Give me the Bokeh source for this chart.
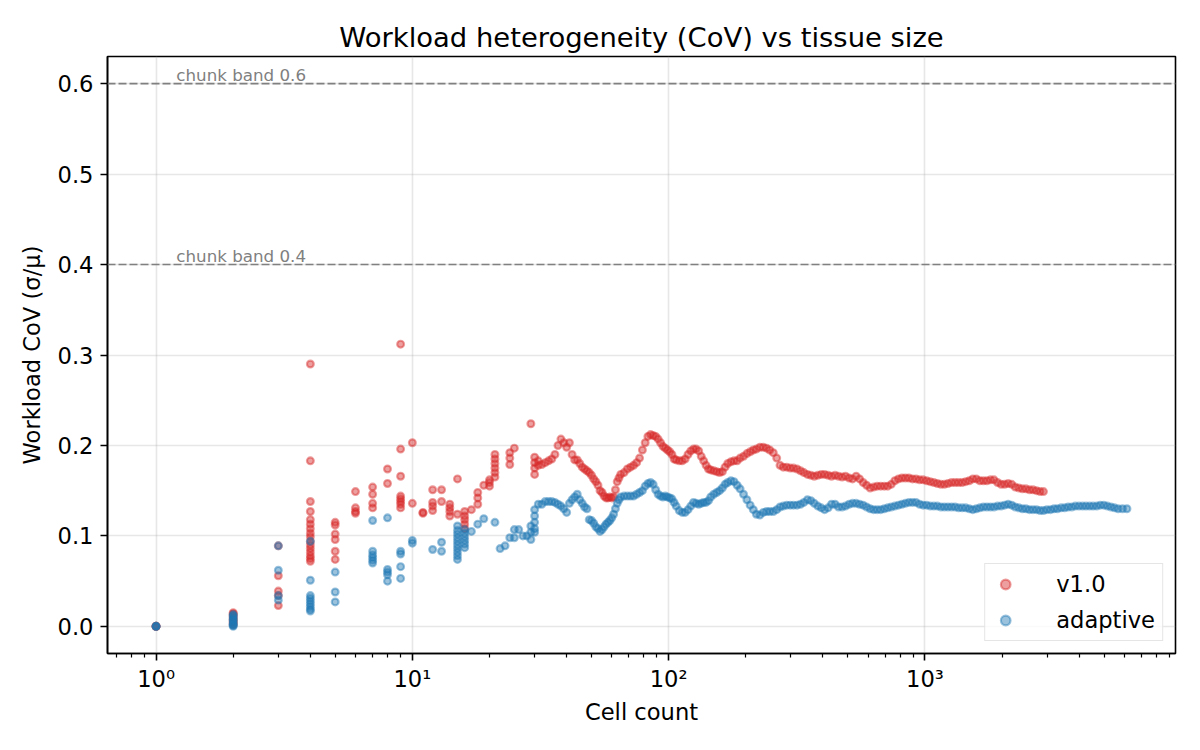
import math
from bokeh.plotting import figure
from bokeh.models import (Span, Range1d, FixedTicker, CustomJSTickFormatter, PrintfTickFormatter,
                          Legend, LegendItem)
from bokeh.embed import file_html
from bokeh.resources import INLINE
from bokeh.core.properties import value

# ---------------- data ----------------
# v1.0 (red): small tissues (several tissues per cell count)
red_x_small = [1, 1, 1,
               2, 2, 2, 2, 2, 2, 2, 2,
               3, 3, 3, 3, 3,
               4, 4, 4, 4, 4, 4, 4, 4, 4, 4, 4, 4, 4, 4, 4, 4,
               5, 5, 5, 5, 5, 5,
               6, 6, 6, 6,
               7, 7, 7, 7,
               8, 8,
               9, 9, 9, 9, 9, 9, 9, 9,
               10, 10,
               11, 11,
               12, 12, 12, 12,
               13, 13,
               14, 14, 14, 14,
               15, 15,
               16, 16, 16, 16, 16,
               17,
               18, 18, 18,
               19,
               20, 20, 20,
               21, 21, 21, 21, 21, 21,
               24, 24, 24,
               25,
               29,
               30, 30, 30, 30,
               31, 31]
red_y_small = [0.0, 0.0, 0.0,
               0.002, 0.004, 0.006, 0.008, 0.010, 0.012, 0.014, 0.015,
               0.089, 0.056, 0.039, 0.034, 0.023,
               0.290, 0.183, 0.138, 0.127, 0.118, 0.113, 0.108, 0.103, 0.099, 0.094, 0.090, 0.086, 0.082, 0.078, 0.075, 0.072,
               0.115, 0.112, 0.102, 0.096, 0.083, 0.074,
               0.149, 0.131, 0.127, 0.125,
               0.154, 0.146, 0.136, 0.131,
               0.174, 0.158,
               0.312, 0.196, 0.166, 0.144, 0.141, 0.138, 0.135, 0.131,
               0.203, 0.136,
               0.126, 0.125,
               0.151, 0.137, 0.133, 0.128,
               0.151, 0.138,
               0.135, 0.131, 0.127, 0.122,
               0.163, 0.124,
               0.127, 0.122, 0.118, 0.113, 0.108,
               0.129,
               0.148, 0.142, 0.135,
               0.156,
               0.162, 0.159, 0.155,
               0.190, 0.185, 0.180, 0.175, 0.170, 0.165,
               0.192, 0.186, 0.179,
               0.197,
               0.224,
               0.187, 0.181, 0.175, 0.168,
               0.183, 0.178]

# v1.0 (red): larger tissues
red_x_tail = [32, 33, 34, 35, 36, 37, 38, 39, 40, 41, 42, 43, 44, 45, 46, 47, 48, 49, 50,
              51, 52, 53, 54, 55, 56, 57, 58, 59, 60, 61, 62, 63, 64, 65, 67, 69, 71, 73, 75,
              77, 79, 81, 83, 85, 87, 89, 91, 93, 95, 97, 99, 101, 103, 105, 107, 110, 113, 116,
              119, 122, 125, 128, 131, 134, 137, 140, 143, 146, 150, 154, 158, 162, 166, 170,
              175, 180, 185, 190, 196, 202, 208, 214, 220, 227, 234, 241, 248, 256, 264, 272,
              280, 289, 298, 307, 317, 327, 337, 348, 359, 370, 382, 394, 406, 419, 432, 446,
              460, 475, 490, 506, 522, 539, 556, 574, 592, 611, 631, 651, 672, 694, 716, 739,
              763, 788, 813, 839, 866, 894, 923, 953, 984, 1016, 1049, 1083, 1118, 1154, 1191,
              1230, 1270, 1311, 1353, 1397, 1442, 1489, 1537, 1587, 1638, 1691, 1746, 1802,
              1860, 1920, 1982, 2046, 2112, 2181, 2251, 2324, 2399, 2477, 2557, 2640, 2725,
              2813, 2900]
red_y_tail = [0.179, 0.181, 0.183, 0.185, 0.190, 0.200, 0.207, 0.203, 0.198, 0.203, 0.190, 0.184,
              0.184, 0.180, 0.176, 0.174, 0.172, 0.170, 0.167,
              0.163, 0.160, 0.156, 0.150, 0.148, 0.144, 0.142, 0.142, 0.143, 0.142, 0.143, 0.151,
              0.160, 0.164, 0.168, 0.170, 0.174, 0.176, 0.178, 0.181,
              0.186, 0.195, 0.203, 0.210, 0.212, 0.211, 0.210, 0.207, 0.203, 0.199, 0.197, 0.195,
              0.193, 0.190, 0.185, 0.184, 0.183, 0.183, 0.185,
              0.190, 0.194, 0.196, 0.196, 0.194, 0.188, 0.183, 0.178, 0.174, 0.173, 0.172, 0.171,
              0.170, 0.171, 0.176, 0.180,
              0.182, 0.183, 0.183, 0.186, 0.188, 0.191, 0.193, 0.195, 0.196, 0.198, 0.198, 0.197,
              0.195, 0.192, 0.186, 0.178,
              0.176, 0.176, 0.175, 0.175, 0.174, 0.172, 0.170, 0.168, 0.167, 0.166, 0.167, 0.168,
              0.168, 0.167, 0.166, 0.167,
              0.166, 0.165, 0.166, 0.164, 0.163, 0.166, 0.163, 0.159, 0.156, 0.153, 0.154, 0.155,
              0.155, 0.155, 0.155, 0.157,
              0.161, 0.163, 0.164, 0.164, 0.164, 0.163, 0.163, 0.162, 0.162, 0.161, 0.160, 0.159,
              0.158, 0.157, 0.157,
              0.158, 0.159, 0.159, 0.159, 0.159, 0.160, 0.161, 0.163, 0.163, 0.161, 0.161, 0.161,
              0.162,
              0.162, 0.159, 0.157, 0.157, 0.158, 0.157, 0.154, 0.153, 0.152, 0.152, 0.151, 0.151,
              0.150,
              0.149, 0.149]

# adaptive (blue): small tissues
blue_x_small = [1, 1, 1,
                2, 2, 2, 2, 2, 2, 2, 2, 2, 2,
                3, 3, 3, 3,
                4, 4, 4, 4, 4, 4, 4, 4, 4,
                5, 5, 5,
                7, 7, 7, 7, 7, 7,
                8, 8, 8, 8, 8,
                9, 9, 9, 9,
                10, 10,
                12,
                13, 13,
                15, 15, 15, 15, 15, 15, 15, 15, 15, 15,
                16, 16, 16, 16, 16, 16,
                17, 18, 19, 21, 22, 23, 24,
                25, 25,
                26, 27, 28,
                29, 29, 29,
                30, 30, 30, 30, 30,
                31]
blue_y_small = [0.0, 0.0, 0.0,
                0.0, 0.001, 0.002, 0.003, 0.005, 0.007, 0.008, 0.010, 0.012, 0.013,
                0.089, 0.062, 0.034, 0.029,
                0.094, 0.051, 0.034, 0.031, 0.028, 0.025, 0.022, 0.019, 0.017,
                0.060, 0.038, 0.027,
                0.117, 0.083, 0.079, 0.076, 0.073, 0.070,
                0.120, 0.063, 0.060, 0.057, 0.050,
                0.083, 0.080, 0.066, 0.053,
                0.095, 0.092,
                0.085,
                0.093, 0.083,
                0.111, 0.106, 0.102, 0.098, 0.094, 0.090, 0.086, 0.082, 0.078, 0.074,
                0.107, 0.103, 0.099, 0.095, 0.091, 0.087,
                0.105, 0.113, 0.119, 0.115, 0.086, 0.089, 0.098,
                0.107, 0.098,
                0.107, 0.100, 0.100,
                0.111, 0.104, 0.096,
                0.129, 0.122, 0.115, 0.108, 0.104,
                0.135]

# adaptive (blue): larger tissues
blue_x_tail = [32, 33, 34, 35, 36, 37, 38, 39, 40, 41, 42, 43, 44, 45, 46, 47, 48, 49, 50,
               51, 52, 53, 54, 55, 56, 57, 58, 59, 60, 61, 62, 63, 64, 65, 67, 69, 71, 73, 75,
               77, 79, 81, 83, 85, 87, 89, 91, 93, 95, 97, 99, 101, 103, 105, 107, 110, 113, 116,
               119, 122, 125, 128, 131, 134, 137, 140, 143, 146, 150, 154, 158, 162, 166, 170,
               175, 180, 185, 190, 196, 202, 208, 214, 220, 227, 234, 241, 248, 256, 264, 272,
               280, 289, 298, 307, 317, 327, 337, 348, 359, 370, 382, 394, 406, 419, 432, 446,
               460, 475, 490, 506, 522, 539, 556, 574, 592, 611, 631, 651, 672, 694, 716, 739,
               763, 788, 813, 839, 866, 894, 923, 953, 984, 1016, 1049, 1083, 1118, 1154, 1191,
               1230, 1270, 1311, 1353, 1397, 1442, 1489, 1537, 1587, 1638, 1691, 1746, 1802,
               1860, 1920, 1982, 2046, 2112, 2181, 2251, 2324, 2399, 2477, 2557, 2640, 2725,
               2813, 2900, 2990, 3090, 3190, 3290, 3400, 3510, 3620, 3740, 3860, 3990, 4120,
               4250, 4390, 4530, 4680, 4830, 4990, 5150, 5320, 5490, 5670, 5900, 6140]
blue_y_tail = [0.135, 0.138, 0.138, 0.138, 0.137, 0.135, 0.133, 0.130, 0.126, 0.136, 0.140, 0.143,
               0.146, 0.140, 0.136, 0.132, 0.130, 0.118, 0.117,
               0.114, 0.110, 0.108, 0.105, 0.107, 0.110, 0.113, 0.115, 0.117, 0.120, 0.124, 0.130,
               0.136, 0.140, 0.143, 0.144, 0.144, 0.144, 0.144, 0.146,
               0.148, 0.150, 0.155, 0.158, 0.159, 0.157, 0.151, 0.146, 0.144, 0.143, 0.144, 0.143,
               0.142, 0.141, 0.137, 0.133, 0.128, 0.126, 0.126,
               0.129, 0.133, 0.137, 0.136, 0.135, 0.136, 0.137, 0.137, 0.139, 0.143, 0.146, 0.148,
               0.150, 0.153, 0.157, 0.159,
               0.161, 0.160, 0.156, 0.152, 0.146, 0.140, 0.134, 0.129, 0.124, 0.123, 0.126, 0.127,
               0.127, 0.127, 0.129, 0.132,
               0.133, 0.134, 0.134, 0.134, 0.134, 0.135, 0.137, 0.140, 0.139, 0.136, 0.133, 0.131,
               0.129, 0.131, 0.135, 0.135,
               0.132, 0.132, 0.133, 0.135, 0.136, 0.136, 0.135, 0.134, 0.132, 0.130, 0.129, 0.129,
               0.129, 0.130, 0.131, 0.132,
               0.133, 0.134, 0.135, 0.136, 0.137, 0.137, 0.137, 0.135, 0.134, 0.134, 0.133, 0.133,
               0.133, 0.132, 0.132,
               0.132, 0.132, 0.132, 0.131, 0.131, 0.131, 0.130, 0.129, 0.130, 0.131, 0.132, 0.132,
               0.132,
               0.132, 0.133, 0.133, 0.134, 0.135, 0.134, 0.132, 0.131, 0.130, 0.130, 0.129, 0.129,
               0.129,
               0.128, 0.128, 0.129, 0.129, 0.130, 0.130, 0.131, 0.131, 0.132, 0.132, 0.133, 0.133,
               0.133,
               0.133, 0.133, 0.133, 0.133, 0.134, 0.134, 0.133, 0.132, 0.131, 0.130, 0.130, 0.130]

band_levels = [0.4, 0.6]
series_labels = ["v1.0", "adaptive"]

# ---------------- style ----------------
FONT = "DejaVu Sans"
RED = "#d62728"
BLUE = "#1f77b4"
LW = 1.6
LABEL_SIZE = "22.6px"

red_x = red_x_small + red_x_tail
red_y = red_y_small + red_y_tail
blue_x = blue_x_small + blue_x_tail
blue_y = blue_y_small + blue_y_tail

# matplotlib-like 5% margins in log space
lmin = math.log10(min(red_x + blue_x))
lmax = math.log10(max(red_x + blue_x))
span_l = lmax - lmin
x_lo = 10 ** (lmin - 0.05 * span_l)
x_hi = 10 ** (lmax + 0.05 * span_l)

p = figure(width=1200, height=750, x_axis_type="log",
           x_range=Range1d(x_lo, x_hi), y_range=Range1d(-0.03, 0.63),
           output_backend="svg", toolbar_location=None,
           min_border_left=107, min_border_right=25, min_border_top=56, min_border_bottom=97,
           background_fill_color="white", border_fill_color="white")

p.title.text = "Workload heterogeneity (CoV) vs tissue size"
p.title.text_font = FONT
p.title.text_font_size = "27.4px"
p.title.text_font_style = "normal"
p.title.text_color = "black"
p.title.align = "center"
p.title.standoff = 7

p.outline_line_color = "black"
p.outline_line_width = LW
p.outline_line_alpha = 1.0

# ticks
majors = [1, 10, 100, 1000]
minors = [k * 10 ** e for e in range(-1, 4) for k in range(2, 10)]
p.xaxis.ticker = FixedTicker(ticks=majors, minor_ticks=minors)
p.xaxis.formatter = CustomJSTickFormatter(code="""
const sup = {'-':'\u207b','0':'\u2070','1':'\u00b9','2':'\u00b2','3':'\u00b3','4':'\u2074','5':'\u2075'};
const e = Math.round(Math.log10(tick));
return '10' + String(e).split('').map(c => sup[c]).join('');
""")
p.yaxis.ticker = FixedTicker(ticks=[0.0, 0.1, 0.2, 0.3, 0.4, 0.5, 0.6])
p.yaxis.formatter = PrintfTickFormatter(format="%.1f")

for ax in (p.xaxis[0], p.yaxis[0]):
    ax.axis_line_width = LW
    ax.axis_line_color = "black"
    ax.major_tick_line_width = LW
    ax.minor_tick_line_width = 1.2
    ax.major_tick_out = 7
    ax.major_tick_in = 0
    ax.minor_tick_out = 4
    ax.minor_tick_in = 0
    ax.major_label_text_font = FONT
    ax.major_label_text_font_size = LABEL_SIZE
    ax.major_label_text_color = "black"
    ax.axis_label_text_font = FONT
    ax.axis_label_text_font_size = LABEL_SIZE
    ax.axis_label_text_font_style = "normal"
    ax.axis_label_text_color = "black"

p.yaxis.minor_tick_out = 0
p.xaxis.axis_label = "Cell count"
p.yaxis.axis_label = "Workload CoV (\u03c3/\u03bc)"
p.xaxis.major_label_standoff = 5
p.yaxis.major_label_standoff = 7
p.xaxis.axis_label_standoff = 4
p.yaxis.axis_label_standoff = 10

for g in (p.xgrid[0], p.ygrid[0]):
    g.grid_line_color = "#b0b0b0"
    g.grid_line_alpha = 0.3
    g.grid_line_width = LW

# chunk bands
for b in band_levels:
    p.add_layout(Span(location=b, dimension="width", line_color="gray",
                      line_dash="8 3", line_width=LW))
p.text(x=[1.2] * len(band_levels), y=[b + 0.01 for b in band_levels],
       text=[f"chunk band {b}" for b in band_levels],
       text_font=value(FONT), text_font_size="16.7px", text_color="gray",
       text_baseline="alphabetic", text_align="left")

# scatter
r_red = p.scatter(red_x, red_y, size=6.8, marker="circle",
                  fill_color=RED, line_color=RED, fill_alpha=0.45, line_alpha=0.45, line_width=2.2)
r_blue = p.scatter(blue_x, blue_y, size=6.8, marker="circle",
                   fill_color=BLUE, line_color=BLUE, fill_alpha=0.45, line_alpha=0.45, line_width=2.2)

legend = Legend(items=[LegendItem(label=series_labels[0], renderers=[r_red]),
                       LegendItem(label=series_labels[1], renderers=[r_blue])],
                location="bottom_right")
legend.margin = 12
legend.padding = 7
legend.spacing = 10
legend.glyph_width = 26
legend.glyph_height = 24
legend.label_height = 24
legend.label_standoff = 38
legend.label_text_font = FONT
legend.label_text_font_size = LABEL_SIZE
legend.label_text_color = "black"
legend.border_line_color = "#cccccc"
legend.border_line_width = LW
legend.background_fill_color = "white"
legend.background_fill_alpha = 0.8
p.add_layout(legend)

open("out.html", "w").write(file_html(p, INLINE))
